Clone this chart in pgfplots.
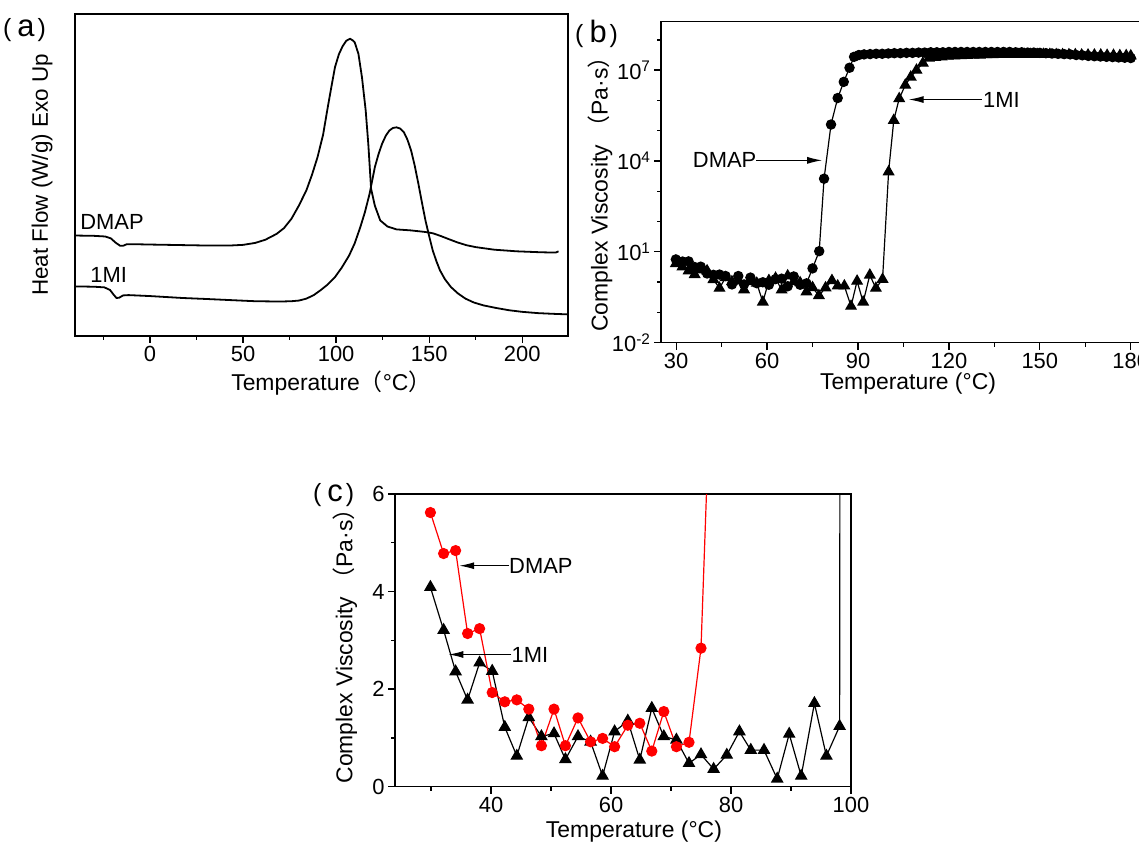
\documentclass[border=0pt]{standalone}
\usepackage{fontspec}
\setmainfont{Liberation Sans}
\newfontfamily\cjk{Noto Sans CJK SC}
\usepackage{pgfplots}
\usepackage{pgfplotstable}
\pgfplotsset{compat=1.18}
\usetikzlibrary{arrows.meta}

% DSC traces, y in arbitrary units (0 = bottom of frame, 100 = top)
\pgfplotstableread{
T y
-40 31.2
-30 31.1
-24 30.9
-21 30.3
-18.5 29.0
-16 28.0
-14.5 28.0
-12.5 28.5
-8 28.5
0 28.4
10 28.3
20 28.2
30 28.1
43 28.1
50 28.3
56.5 28.9
62 29.9
68 31.7
72 33.5
76 36.4
80 40.5
84 45.2
87 50
90 55.5
93 62.5
95.5 71
97.5 77.5
99.4 83.5
101.5 87.5
103.5 90
105.5 91.7
107.5 92.3
109 91.8
110 91.2
112 87.6
113.9 80.3
115.9 70
117.3 59.6
118.8 45.7
120.8 40.5
123.7 35.9
127.6 34
132.5 33.1
140 32.8
148 32.3
152 31.9
156 31.1
160 30.2
165 29.1
170 28.2
175 27.6
185 26.8
197 26.3
210 26.0
218 25.9
219.5 26.3
}\dscdmap

\pgfplotstableread{
T y
-40 15.4
-30 15.3
-24.5 15.1
-21.5 14.3
-19.5 12.8
-18 11.8
-16.5 11.9
-14.5 12.6
-11.5 12.7
0 12.4
17.5 11.8
30 11.5
45 11.1
56.5 10.8
70 10.7
76 10.8
80 11.0
84 11.6
88 12.7
91.6 14.2
95.5 16
99.4 18.3
103 21.2
107 25
110 28.8
113 33.8
115.5 38.5
118 44.2
120.8 52.4
122.8 56.5
124.7 59.7
126.7 62.2
128.6 63.8
130.5 64.6
132.5 64.8
134.5 64.4
136.4 63.3
138.3 61
140.3 57.6
142.2 53
144.2 47.3
146.1 41.5
148 35.9
150 31
151.9 26.6
153.9 23.2
155.8 20.4
158.5 17.6
161.7 15.2
165.5 13.2
169.5 11.6
174 10.4
179.2 9.5
186 8.7
192.9 8
200 7.5
208.5 7.1
216 6.9
225 6.7
}\dscmi

% complex viscosity (Pa s) vs temperature
\pgfplotstableread{
T eta
29.9 5.62
32.1 4.78
34.1 4.84
36.1 3.14
38.1 3.24
40.2 1.93
42.3 1.74
44.3 1.78
46.3 1.59
48.4 0.84
50.5 1.59
52.4 0.84
54.5 1.41
56.6 0.92
58.6 0.99
60.6 0.82
62.8 1.26
64.8 1.30
66.8 0.73
68.8 1.54
70.9 0.82
73.0 0.91
75.0 2.84
77.2 10.5
78.8 2.6e3
81.1 1.6e5
83.3 1.2e6
85.3 4.1e6
87.2 1.2e7
88.7 2.75e7
90.3 3.16e7
92 3.31e7
94 3.39e7
96 3.47e7
98 3.47e7
100 3.55e7
102 3.63e7
104 3.63e7
106 3.72e7
108 3.72e7
110 3.80e7
112 3.80e7
114 3.89e7
116 3.89e7
118 3.89e7
120 3.98e7
122 3.98e7
124 3.98e7
126 3.98e7
128 3.98e7
130 3.98e7
132 3.98e7
134 3.98e7
136 3.98e7
138 3.98e7
140 3.98e7
142 3.89e7
144 3.89e7
146 3.80e7
148 3.80e7
150 3.72e7
152 3.63e7
154 3.55e7
156 3.47e7
158 3.39e7
160 3.31e7
162 3.16e7
164 3.09e7
166 2.95e7
168 2.88e7
170 2.82e7
172 2.75e7
174 2.69e7
176 2.63e7
178 2.57e7
180 2.51e7
}\etadmap

\pgfplotstableread{
T eta
29.9 4.09
32.1 3.21
34.1 2.36
36.1 1.78
38.1 2.54
40.2 2.37
42.3 1.22
44.3 0.63
46.3 1.42
48.4 1.03
50.5 1.09
52.4 0.56
54.5 1.03
56.6 0.92
58.6 0.22
60.6 1.13
62.8 1.35
64.8 0.55
66.8 1.61
68.8 1.03
70.9 0.96
73.0 0.48
75.0 0.66
77.1 0.36
79.3 0.65
81.4 1.13
83.3 0.75
85.5 0.75
87.7 0.16
89.7 1.08
91.7 0.22
93.9 1.71
95.9 0.63
98.1 1.24
100.1 4.4e3
101.8 2.2e5
103.6 1.15e6
105.6 3.2e6
107.4 5.9e6
109.3 1.0e7
111.4 1.7e7
113.4 2.5e7
115.5 2.63e7
117.6 2.75e7
119.7 2.88e7
121.8 2.95e7
123.9 3.02e7
126.0 3.09e7
128.1 3.16e7
130.2 3.16e7
132.3 3.24e7
134.4 3.24e7
136.5 3.31e7
138.6 3.31e7
140.7 3.31e7
142.8 3.31e7
144.9 3.31e7
147.0 3.31e7
149.1 3.31e7
151.2 3.31e7
153.3 3.31e7
155.4 3.24e7
157.5 3.24e7
159.6 3.24e7
161.7 3.24e7
163.8 3.16e7
165.9 3.16e7
168.0 3.16e7
170.1 3.16e7
172.2 3.09e7
174.3 3.09e7
176.4 3.02e7
178.5 3.02e7
180.0 2.95e7
}\etami

\pgfplotsset{
  origin/.style={
    scale only axis,
    anchor=south west,
    tick align=outside,
    tick pos=left,
    axis line style={line width=1.5bp},
    tick style={black, line width=1.3bp},
    major tick length=7bp,
    minor tick length=4bp,
    tick label style={font=\fontsize{22}{24}\selectfont},
    label style={font=\fontsize{23}{26}\selectfont},
    /pgf/number format/assume math mode=true,
  },
}
\tikzset{note/.style={font=\fontsize{22}{24}\selectfont, inner sep=0pt},
  pointer/.style={-{Latex[length=15bp,width=7bp]}, line width=1.2bp},
  panel/.style={anchor=west, inner sep=0pt}}
\newcommand{\panel}[1]{{\fontsize{25}{27}\selectfont(}\hspace{6bp}{\fontsize{31}{33}\selectfont #1}\hspace{3bp}{\fontsize{25}{27}\selectfont)}}

\begin{document}
\begin{tikzpicture}
\useasboundingbox (0,0) rectangle (1139bp,845bp);

% (a) DSC
\begin{axis}[origin, at={(75bp,509bp)}, width=493bp, height=322bp,
  xmin=-40.3, xmax=224.6, ymin=0, ymax=100,
  xtick={0,50,...,200}, minor xtick={-25,25,75,125,175}, ytick=\empty,
  xlabel={Temperature{\cjk （}°C{\cjk ）}},
  ylabel={Heat Flow (W/g) Exo Up},
  xlabel style={at={(axis description cs:0.52,-0.146)}, anchor=center},
  ylabel style={at={(axis description cs:-0.067,0.5)}, anchor=center,
    font=\fontsize{22.5}{25}\selectfont}]
\addplot[black, line width=1.8bp] table[x=T, y=y] {\dscdmap};
\addplot[black, line width=1.8bp] table[x=T, y=y] {\dscmi};
\node[note, anchor=base west] at (axis cs:-37.5,33.2) {DMAP};
\node[note, anchor=base west] at (axis cs:-32.1,16.7) {1MI};
\end{axis}

% (b) viscosity, log scale
\begin{axis}[origin, at={(661bp,502.3bp)}, width=494bp, height=321bp,
  xmin=25, xmax=188, ymode=log, ymin=1e-2, ymax=3.98e8,
  xtick={30,60,...,180}, minor xtick={45,75,105,135,165},
  ytick={1e-2,1e1,1e4,1e7},
  yticklabels={10\textsuperscript{-2},10\textsuperscript{1},10\textsuperscript{4},10\textsuperscript{7}},
  minor ytick={1e-1,1,1e2,1e3,1e5,1e6,1e8},
  xlabel={Temperature (°C)},
  ylabel={Complex Viscosity {\cjk （}Pa·s{\cjk ）}},
  xlabel style={at={(axis description cs:0.5,-0.126)}, anchor=center},
  ylabel style={at={(axis description cs:-0.123,0.48)}, anchor=center}]
\addplot[black, line width=1.2bp, mark=*, mark size=4.6bp] table[x=T, y=eta] {\etadmap};
\addplot[black, line width=1.2bp, mark=triangle*, mark size=5.8bp] table[x=T, y=eta] {\etami};
\draw[pointer] (axis cs:56.5,1.05e4) -- (axis cs:78.2,1.05e4);
\node[note, anchor=east] at (axis cs:56.5,1.05e4) {DMAP};
\draw[pointer] (axis cs:130.9,1.07e6) -- (axis cs:106.7,1.07e6);
\node[note, anchor=west] at (axis cs:131.2,1.07e6) {1MI};
\end{axis}

% (c) viscosity, low-temperature detail
\begin{axis}[origin, at={(395bp,58.3bp)}, width=456bp, height=292.7bp,
  xmin=24, xmax=100, ymin=0, ymax=6,
  xtick={40,60,80,100}, minor xtick={30,50,70,90},
  ytick={0,2,4,6}, minor ytick={1,3,5},
  xlabel={Temperature (°C)},
  ylabel={Complex Viscosity {\cjk （}Pa·s{\cjk ）}},
  xlabel style={at={(axis description cs:0.524,-0.155)}, anchor=center},
  ylabel style={at={(axis description cs:-0.11,0.5)}, anchor=center},
  y filter/.expression={y>200 ? 200 : y}]
\addplot[black, line width=1.2bp, mark=triangle*, mark size=6.2bp] table[x=T, y=eta] {\etami};
\addplot[red, line width=1.2bp, mark=*, mark size=5bp] table[x=T, y=eta] {\etadmap};
\draw[pointer] (axis cs:43,4.53) -- (axis cs:34.7,4.53);
\node[note, anchor=west] at (axis cs:43,4.53) {DMAP};
\draw[pointer] (axis cs:43.4,2.71) -- (axis cs:32.9,2.71);
\node[note, anchor=west] at (axis cs:43.4,2.71) {1MI};
\end{axis}

\node[panel] at (3bp,815bp) {\panel{a}};
\node[panel] at (575bp,811bp) {\panel{b}};
\node[panel] at (313bp,350bp) {\panel{c}};
\end{tikzpicture}
\end{document}
